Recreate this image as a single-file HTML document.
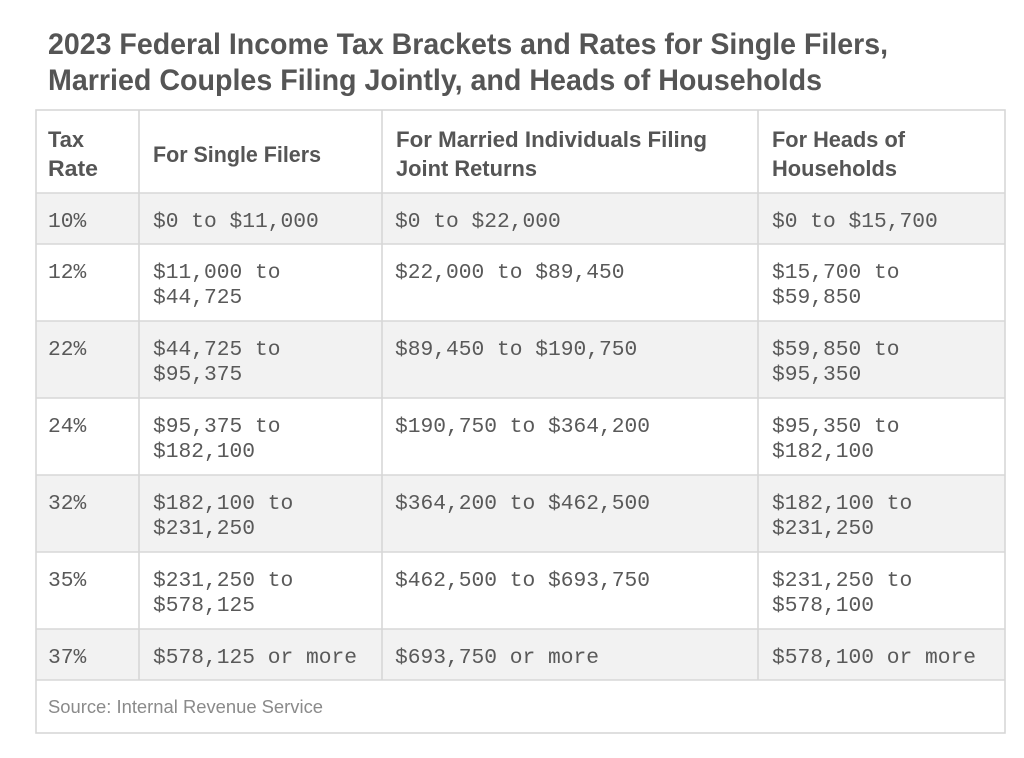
<!DOCTYPE html>
<html>
<head>
<meta charset="utf-8">
<style>
  html,body{margin:0;padding:0;background:#ffffff;}
  svg{display:block;}
  .t{font-family:"Liberation Sans",Arial,sans-serif;font-weight:bold;fill:#555555;}
  .h{font-family:"Liberation Sans",Arial,sans-serif;font-weight:bold;fill:#555555;font-size:22px;}
  .m{font-family:"Liberation Mono","DejaVu Sans Mono",monospace;fill:#595959;font-size:21.25px;}
  .s{font-family:"Liberation Sans",Arial,sans-serif;fill:#8a8a8a;font-size:18px;}
</style>
</head>
<body>
<svg width="1024" height="758" viewBox="0 0 1024 758" xmlns="http://www.w3.org/2000/svg">
  <rect x="0" y="0" width="1024" height="758" fill="#ffffff"/>

  <!-- Title -->
  <text class="t" x="48" y="54" font-size="30" textLength="840" lengthAdjust="spacingAndGlyphs">2023 Federal Income Tax Brackets and Rates for Single Filers,</text>
  <text class="t" x="48" y="90" font-size="30" textLength="774" lengthAdjust="spacingAndGlyphs">Married Couples Filing Jointly, and Heads of Households</text>

  <!-- Row shading -->
  <g fill="#f2f2f2">
    <rect x="36" y="193" width="969" height="51"/>
    <rect x="36" y="321" width="969" height="77"/>
    <rect x="36" y="475" width="969" height="77"/>
    <rect x="36" y="629" width="969" height="51"/>
  </g>

  <!-- Grid lines -->
  <g stroke="#d7d7d7" stroke-width="1.6" fill="none">
    <rect x="36" y="110" width="969" height="623"/>
    <line x1="36" y1="193" x2="1005" y2="193"/>
    <line x1="36" y1="244" x2="1005" y2="244"/>
    <line x1="36" y1="321" x2="1005" y2="321"/>
    <line x1="36" y1="398" x2="1005" y2="398"/>
    <line x1="36" y1="475" x2="1005" y2="475"/>
    <line x1="36" y1="552" x2="1005" y2="552"/>
    <line x1="36" y1="629" x2="1005" y2="629"/>
    <line x1="36" y1="680" x2="1005" y2="680"/>
    <line x1="139" y1="110" x2="139" y2="680"/>
    <line x1="382" y1="110" x2="382" y2="680"/>
    <line x1="758" y1="110" x2="758" y2="680"/>
  </g>

  <!-- Header -->
  <text class="h" x="48" y="147" textLength="36" lengthAdjust="spacingAndGlyphs">Tax</text>
  <text class="h" x="48" y="176" textLength="50" lengthAdjust="spacingAndGlyphs">Rate</text>
  <text class="h" x="153" y="162" textLength="168" lengthAdjust="spacingAndGlyphs">For Single Filers</text>
  <text class="h" x="396" y="147" textLength="311" lengthAdjust="spacingAndGlyphs">For Married Individuals Filing</text>
  <text class="h" x="396" y="176" textLength="141" lengthAdjust="spacingAndGlyphs">Joint Returns</text>
  <text class="h" x="772" y="147" textLength="133" lengthAdjust="spacingAndGlyphs">For Heads of</text>
  <text class="h" x="772" y="176" textLength="125" lengthAdjust="spacingAndGlyphs">Households</text>

  <!-- 10% -->
  <text class="m" x="48" y="227">10%</text>
  <text class="m" x="153" y="227">$0 to $11,000</text>
  <text class="m" x="395" y="227">$0 to $22,000</text>
  <text class="m" x="772" y="227">$0 to $15,700</text>

  <!-- 12% -->
  <text class="m" x="48" y="278">12%</text>
  <text class="m" x="153" y="278">$11,000 to</text>
  <text class="m" x="153" y="303">$44,725</text>
  <text class="m" x="395" y="278">$22,000 to $89,450</text>
  <text class="m" x="772" y="278">$15,700 to</text>
  <text class="m" x="772" y="303">$59,850</text>

  <!-- 22% -->
  <text class="m" x="48" y="355">22%</text>
  <text class="m" x="153" y="355">$44,725 to</text>
  <text class="m" x="153" y="380">$95,375</text>
  <text class="m" x="395" y="355">$89,450 to $190,750</text>
  <text class="m" x="772" y="355">$59,850 to</text>
  <text class="m" x="772" y="380">$95,350</text>

  <!-- 24% -->
  <text class="m" x="48" y="432">24%</text>
  <text class="m" x="153" y="432">$95,375 to</text>
  <text class="m" x="153" y="457">$182,100</text>
  <text class="m" x="395" y="432">$190,750 to $364,200</text>
  <text class="m" x="772" y="432">$95,350 to</text>
  <text class="m" x="772" y="457">$182,100</text>

  <!-- 32% -->
  <text class="m" x="48" y="509">32%</text>
  <text class="m" x="153" y="509">$182,100 to</text>
  <text class="m" x="153" y="534">$231,250</text>
  <text class="m" x="395" y="509">$364,200 to $462,500</text>
  <text class="m" x="772" y="509">$182,100 to</text>
  <text class="m" x="772" y="534">$231,250</text>

  <!-- 35% -->
  <text class="m" x="48" y="586">35%</text>
  <text class="m" x="153" y="586">$231,250 to</text>
  <text class="m" x="153" y="611">$578,125</text>
  <text class="m" x="395" y="586">$462,500 to $693,750</text>
  <text class="m" x="772" y="586">$231,250 to</text>
  <text class="m" x="772" y="611">$578,100</text>

  <!-- 37% -->
  <text class="m" x="48" y="663">37%</text>
  <text class="m" x="153" y="663">$578,125 or more</text>
  <text class="m" x="395" y="663">$693,750 or more</text>
  <text class="m" x="772" y="663">$578,100 or more</text>

  <!-- Source -->
  <text class="s" x="48" y="713" textLength="275" lengthAdjust="spacingAndGlyphs">Source: Internal Revenue Service</text>
</svg>
</body>
</html>
